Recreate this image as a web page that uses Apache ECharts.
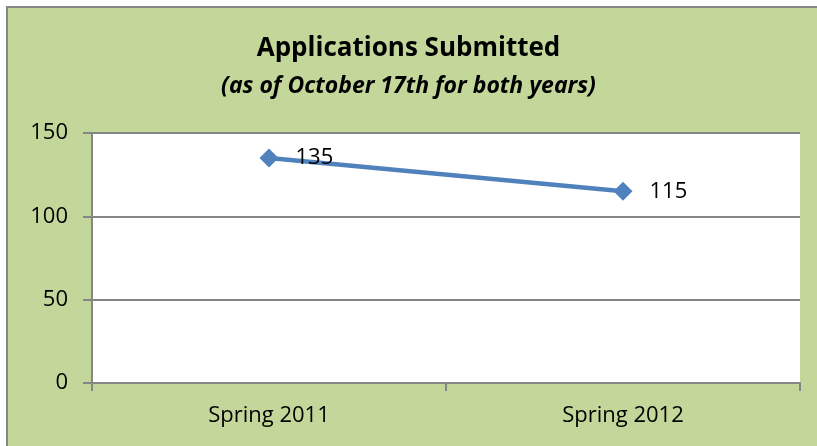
<!DOCTYPE html>
<html><head><meta charset="utf-8">
<script src="https://cdn.jsdelivr.net/npm/echarts@6/dist/echarts.min.js"></script>
<style>html,body{margin:0;padding:0;background:#fff}#c{width:817px;height:446px}</style>
</head><body><div id="c"></div>
<script>
const categories = ["Spring 2011", "Spring 2012"];
const applications = [135, 115];
const yTicks = [0, 50, 100, 150];
const titleText = "Applications Submitted";
const subtitleText = "(as of October 17th for both years)";

const chart = echarts.init(document.getElementById('c'));
const font = "'Open Sans', 'Noto Sans', sans-serif";
chart.setOption({
  backgroundColor: '#ffffff',
  animation: false,
  graphic: [{
    type: 'rect', z: -10,
    shape: { x: 7, y: 7, width: 900, height: 500 },
    style: { fill: '#C4D79B' }
  }, {
    type: 'polyline', z: -9,
    shape: { points: [[7, 446], [7, 7], [817, 7]] },
    style: { stroke: '#868686', lineWidth: 2, fill: null }
  }],
  title: [{
    text: titleText, left: 'center', top: 34, padding: 0,
    textStyle: { fontFamily: font, fontSize: 26, lineHeight: 30, fontWeight: 'bold', color: '#000' }
  }, {
    text: subtitleText, left: 'center', top: 72, padding: 0,
    textStyle: { fontFamily: font, fontSize: 23, lineHeight: 28, fontWeight: 'bold', fontStyle: 'italic', color: '#000' }
  }],
  grid: { left: 92, right: 17, top: 133, bottom: 63, show: true, backgroundColor: '#fff', borderWidth: 0 },
  xAxis: {
    type: 'category', data: categories, boundaryGap: true,
    axisLine: { lineStyle: { color: '#868686', width: 2 } },
    axisTick: { show: true, length: 8, alignWithLabel: false, lineStyle: { color: '#868686', width: 2 } },
    axisLabel: { fontFamily: font, fontSize: 22, color: '#000', margin: 22 }
  },
  yAxis: {
    type: 'value', min: yTicks[0], max: yTicks[yTicks.length - 1], interval: yTicks[1] - yTicks[0],
    axisLine: { show: true, lineStyle: { color: '#868686', width: 2 } },
    axisTick: { show: true, length: 9, lineStyle: { color: '#868686', width: 2 } },
    splitLine: { lineStyle: { color: '#868686', width: 2 } },
    axisLabel: { fontFamily: font, fontSize: 22, color: '#000', margin: 24 }
  },
  series: [{
    type: 'line', data: applications,
    symbol: 'diamond', symbolSize: 19,
    lineStyle: { color: '#4F81BD', width: 4.5 },
    itemStyle: { color: '#4F81BD' },
    label: { show: true, position: 'right', distance: 17, fontFamily: font, fontSize: 22, color: '#000' }
  }]
});
</script></body></html>
